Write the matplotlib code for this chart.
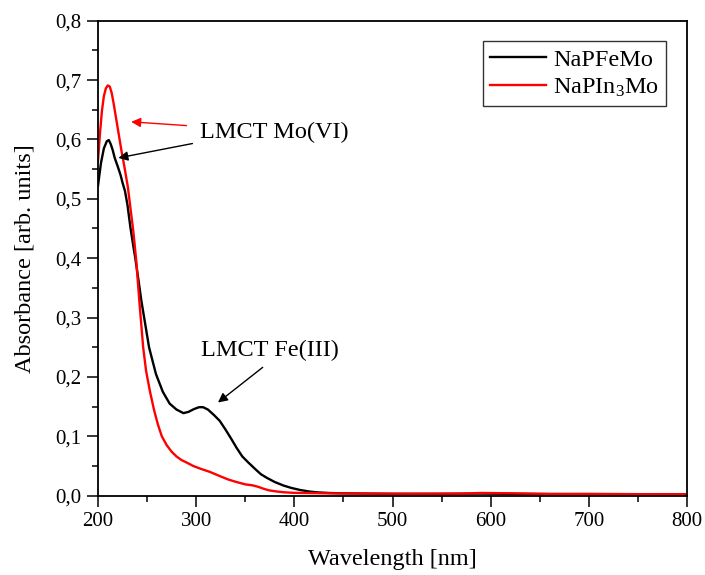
"""
Espectros UV-Vis das amostras NaPFeMo e NaPIn3Mo com as bandas LMCT indicadas.
"""
import matplotlib.pyplot as plt
from matplotlib.ticker import FuncFormatter, MultipleLocator

plt.rcParams["font.family"] = ["Liberation Serif", "DejaVu Serif"]
plt.rcParams["mathtext.fontset"] = "custom"
plt.rcParams["mathtext.rm"] = "Liberation Serif"
plt.rcParams["mathtext.default"] = "regular"

# NaPFeMo
wl_fe = [200, 203, 206, 209, 211, 213, 215, 217, 220, 223, 225, 227.5, 230, 233,
         236, 238, 241.5, 244, 247, 252, 259, 266, 273, 280, 287, 292, 298, 303,
         307, 312, 318, 324, 330, 336, 341, 347, 353, 360, 366, 372, 380, 389,
         397, 406, 415, 423, 435, 446, 470, 500, 550, 590, 620, 700, 800]
abs_fe = [0.522, 0.560, 0.585, 0.597, 0.599, 0.592, 0.582, 0.569, 0.555, 0.540,
          0.527, 0.513, 0.490, 0.452, 0.420, 0.400, 0.360, 0.330, 0.300, 0.250,
          0.205, 0.175, 0.155, 0.145, 0.139, 0.141, 0.146, 0.149, 0.149, 0.145,
          0.136, 0.126, 0.111, 0.095, 0.081, 0.066, 0.056, 0.045, 0.036, 0.030,
          0.023, 0.017, 0.013, 0.0095, 0.007, 0.0056, 0.0045, 0.004, 0.0035,
          0.003, 0.003, 0.0035, 0.003, 0.002, 0.0015]

# NaPIn3Mo
wl_in = [200, 202, 204, 206, 208, 210, 212, 214, 216, 218, 221, 224, 227, 230.5,
         233, 236, 239, 242, 246, 249, 253, 257, 261, 265, 270, 275, 280, 285,
         290, 297, 305, 314, 324, 333, 341, 350, 357, 363, 368, 374, 382, 390,
         400, 430, 470, 520, 570, 590, 620, 660, 700, 750, 800]
abs_in = [0.564, 0.610, 0.648, 0.673, 0.686, 0.691, 0.689, 0.678, 0.660, 0.640,
          0.610, 0.580, 0.553, 0.519, 0.485, 0.445, 0.395, 0.330, 0.250, 0.210,
          0.175, 0.145, 0.120, 0.100, 0.085, 0.074, 0.066, 0.060, 0.056, 0.050,
          0.045, 0.040, 0.033, 0.027, 0.023, 0.019, 0.0175, 0.015, 0.012, 0.009,
          0.007, 0.0056, 0.0047, 0.004, 0.0035, 0.0033, 0.0035, 0.0045, 0.004,
          0.003, 0.003, 0.0025, 0.0025]

FS = 17.5      # rotulos, legenda e textos
FS_TICK = 15


def virgula(v, _pos):
    return f"{v:.1f}".replace(".", ",")


def main() -> None:
    fig = plt.figure(figsize=(7.05, 5.75), dpi=100)
    ax = fig.add_axes([0.139, 0.138, 0.8355, 0.826])

    ax.plot(wl_fe, abs_fe, color="black", lw=1.7, label="NaPFeMo")
    ax.plot(wl_in, abs_in, color="#ff0000", lw=1.7, label="NaPIn$_3$Mo")

    ax.set_xlim(200, 800)
    ax.set_ylim(0, 0.8)
    ax.xaxis.set_major_locator(MultipleLocator(100))
    ax.xaxis.set_minor_locator(MultipleLocator(50))
    ax.yaxis.set_major_locator(MultipleLocator(0.1))
    ax.yaxis.set_minor_locator(MultipleLocator(0.05))
    ax.yaxis.set_major_formatter(FuncFormatter(virgula))
    ax.tick_params(which="major", direction="out", length=8, width=1.1,
                   labelsize=FS_TICK, top=False, right=False, pad=4)
    ax.tick_params(which="minor", direction="out", length=4, width=1.1,
                   top=False, right=False)
    for s in ax.spines.values():
        s.set_linewidth(1.3)

    ax.set_xlabel("Wavelength [nm]", fontsize=FS, labelpad=13)
    ax.set_ylabel("Absorbance [arb. units]", fontsize=FS, labelpad=14)

    # bandas LMCT
    ax.text(304, 0.612, "LMCT Mo(VI)", fontsize=FS, va="center", ha="left")
    ax.annotate("", xy=(231, 0.630), xytext=(293, 0.623),
                arrowprops=dict(arrowstyle="-|>", color="#ff0000", lw=1,
                                mutation_scale=14))
    ax.annotate("", xy=(218, 0.568), xytext=(299, 0.594),
                arrowprops=dict(arrowstyle="-|>", color="black", lw=1,
                                mutation_scale=14))
    ax.text(305, 0.244, "LMCT Fe(III)", fontsize=FS, va="center", ha="left")
    ax.annotate("", xy=(320, 0.154), xytext=(370, 0.219),
                arrowprops=dict(arrowstyle="-|>", color="black", lw=1,
                                mutation_scale=14))

    leg = ax.legend(loc="upper right", fontsize=FS, frameon=True, fancybox=False,
                    edgecolor="black", handlelength=2.3, borderaxespad=0.85,
                    borderpad=0.3, labelspacing=0.25, handletextpad=0.3)
    leg.get_frame().set_linewidth(1.0)

    fig.savefig("out.png", dpi=100)
    plt.close(fig)


if __name__ == "__main__":
    main()
